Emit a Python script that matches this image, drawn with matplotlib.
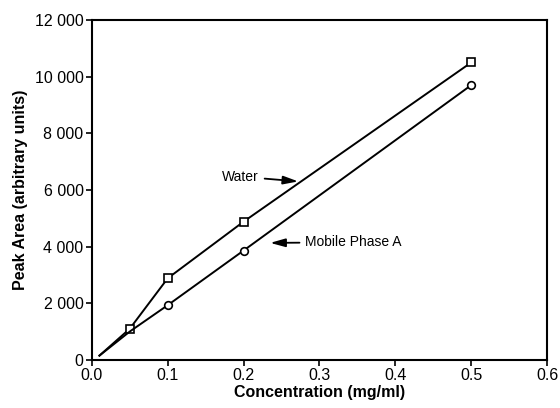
import matplotlib.pyplot as plt
from matplotlib.ticker import FuncFormatter

plt.rcParams['font.family'] = ['Liberation Sans', 'DejaVu Sans']

# data
conc = [0.01, 0.05, 0.1, 0.2, 0.5]
water = [150, 1100, 2880, 4880, 10500]
mobile = [150, 1000, 1930, 3860, 9700]

x_ticks = [0.0, 0.1, 0.2, 0.3, 0.4, 0.5, 0.6]
y_ticks = [0, 2000, 4000, 6000, 8000, 10000, 12000]

fig = plt.figure(figsize=(5.6, 4.08), dpi=100)
ax = fig.add_axes([0.164, 0.118, 0.813, 0.833])

ax.plot(conc, water, color='black', lw=1.4, marker='s', markersize=5.5,
        markerfacecolor='white', markeredgewidth=1.2, markevery=[1, 2, 3, 4])
ax.plot(conc, mobile, color='black', lw=1.4, marker='o', markersize=5.5,
        markerfacecolor='white', markeredgewidth=1.2, markevery=[2, 3, 4])

arrow = dict(arrowstyle='-|>,head_length=0.9,head_width=0.25', color='black',
             lw=1.3, mutation_scale=10, shrinkA=2, shrinkB=0)
ax.annotate('Water', xy=(0.272, 6300), xytext=(0.172, 6470),
            fontsize=10, va='center', ha='left', arrowprops=arrow)
ax.annotate('Mobile Phase A', xy=(0.235, 4130), xytext=(0.281, 4150),
            fontsize=10, va='center', ha='left', arrowprops=arrow)

ax.set_xlim(0, 0.6)
ax.set_ylim(0, 12000)
ax.set_xticks(x_ticks)
ax.set_yticks(y_ticks)
ax.xaxis.set_major_formatter(FuncFormatter(lambda v, p: f'{v:.1f}'))
ax.yaxis.set_major_formatter(FuncFormatter(lambda v, p: f'{int(v):,}'.replace(',', ' ')))
ax.tick_params(direction='out', length=4, width=1.2, labelsize=11.5, pad=2)

for s in ax.spines.values():
    s.set_linewidth(1.5)

ax.set_xlabel('Concentration (mg/ml)', fontsize=11.5, fontweight='bold', labelpad=1)
ax.set_ylabel('Peak Area (arbitrary units)', fontsize=11.5, fontweight='bold', labelpad=5)

fig.savefig('out.png', dpi=100)
